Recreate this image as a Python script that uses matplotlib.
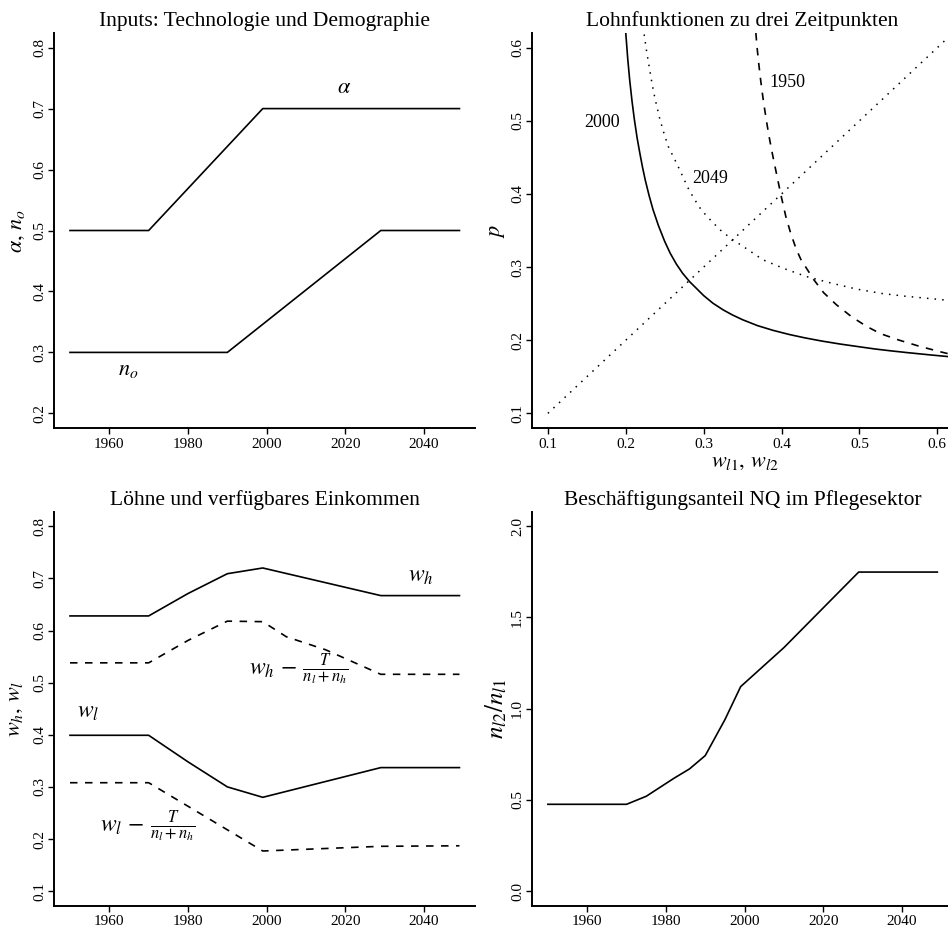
import matplotlib
matplotlib.use('Agg')
import matplotlib.pyplot as plt

plt.rcParams['font.family'] = ['Liberation Serif', 'DejaVu Serif']
plt.rcParams['mathtext.fontset'] = 'stix'

# ---- data ----
# panel 1: inputs
years_alpha = [1950, 1970, 1999, 2049]
alpha = [0.5, 0.5, 0.7, 0.7]
years_no = [1950, 1990, 2029, 2049]
n_o = [0.3, 0.3, 0.5, 0.5]

# panel 2: wage functions (w_l, p)
w_2000 = [0.200, 0.2025, 0.205, 0.208, 0.211, 0.2145, 0.218, 0.2215, 0.225, 0.230,
          0.235, 0.242, 0.250, 0.257, 0.265, 0.273, 0.282, 0.290, 0.300, 0.312,
          0.325, 0.337, 0.350, 0.369, 0.389, 0.410, 0.430, 0.452, 0.475, 0.500,
          0.520, 0.540, 0.560, 0.590, 0.620]
p_2000 = [0.620, 0.585, 0.556, 0.527, 0.502, 0.477, 0.456, 0.4365, 0.419, 0.3975,
          0.3785, 0.3565, 0.335, 0.319, 0.304, 0.2915, 0.280, 0.2716, 0.261, 0.2505,
          0.2415, 0.2345, 0.228, 0.220, 0.2135, 0.2078, 0.2032, 0.1988, 0.1948, 0.191,
          0.188, 0.1855, 0.1832, 0.180, 0.177]
p_1950 = [0.620, 0.600, 0.580, 0.556, 0.534, 0.515, 0.494, 0.475, 0.456, 0.425,
          0.397, 0.369, 0.346, 0.324, 0.310, 0.2826, 0.265, 0.2484, 0.232, 0.219,
          0.209, 0.2004, 0.192, 0.1844, 0.180]
w_1950 = [0.3670, 0.3686, 0.3705, 0.3731, 0.3758, 0.3784, 0.3815, 0.3846, 0.3880, 0.3940,
          0.3995, 0.4055, 0.4118, 0.4190, 0.4250, 0.4415, 0.4540, 0.4705, 0.4900, 0.5090,
          0.5270, 0.5500, 0.5760, 0.6030, 0.6200]
w_2049 = [0.2236, 0.227, 0.231, 0.234, 0.2374, 0.2438, 0.249, 0.2545, 0.261, 0.267,
          0.280, 0.288, 0.297, 0.309, 0.321, 0.335, 0.351, 0.376, 0.403, 0.432,
          0.464, 0.496, 0.528, 0.560, 0.590, 0.620]
p_2049 = [0.618, 0.593, 0.568, 0.549, 0.531, 0.502, 0.483, 0.465, 0.451, 0.438,
          0.408, 0.393, 0.378, 0.364, 0.351, 0.339, 0.328, 0.310, 0.298, 0.287,
          0.278, 0.270, 0.264, 0.260, 0.257, 0.254]
w_diag = [0.1, 0.62]
p_diag = [0.1, 0.62]

# panel 3: wages and disposable income
years_w = [1950, 1970, 1980, 1990, 1999, 2029, 2049]
w_h = [0.628, 0.628, 0.671, 0.709, 0.720, 0.667, 0.667]
w_l = [0.399, 0.399, 0.348, 0.300, 0.280, 0.337, 0.337]
years_d = [1950, 1970, 1980, 1990, 1999, 2005, 2015, 2029, 2049]
w_h_net = [0.538, 0.538, 0.581, 0.618, 0.617, 0.588, 0.563, 0.516, 0.516]
years_dl = [1950, 1970, 1999, 2029, 2049]
w_l_net = [0.308, 0.308, 0.177, 0.186, 0.187]

# panel 4: employment share
years_n = [1950, 1970, 1975, 1982, 1986, 1990, 1995, 1999, 2010, 2029, 2049]
n_ratio = [0.476, 0.476, 0.52, 0.618, 0.67, 0.743, 0.94, 1.121, 1.335, 1.749, 1.749]

year_ticks = [1960, 1980, 2000, 2020, 2040]

LW = 1.2
DASH = (0, (4.5, 4.5))
DOT = (0, (1, 4))


def style(ax, xlim, ylim, xticks, yticks, ylabels):
    ax.set_xlim(*xlim)
    ax.set_ylim(*ylim)
    for s in ['top', 'right']:
        ax.spines[s].set_visible(False)
    for s in ['left', 'bottom']:
        ax.spines[s].set_linewidth(1.4)
    ax.set_xticks(xticks)
    ax.set_xticklabels([str(t) for t in xticks])
    ax.set_yticks(yticks)
    ax.set_yticklabels(ylabels)
    ax.tick_params(direction='out', length=4, width=1, labelsize=11)
    ax.tick_params(axis='x', pad=3)
    ax.tick_params(axis='y', pad=2)
    for lab in ax.get_yticklabels():
        lab.set_rotation(90)
        lab.set_va('center')


fig = plt.figure(figsize=(9.48, 9.30), dpi=100)

# ---- panel 1 ----
ax1 = fig.add_axes([0.0574, 0.5398, 0.4437, 0.4247])
ax1.plot(years_alpha, alpha, color='black', lw=LW)
ax1.plot(years_no, n_o, color='black', lw=LW)
style(ax1, (1946.04, 2052.96), (0.176, 0.824), year_ticks,
      [0.2, 0.3, 0.4, 0.5, 0.6, 0.7, 0.8],
      ['0.2', '0.3', '0.4', '0.5', '0.6', '0.7', '0.8'])
ax1.text(2019.6, 0.733, r'$\alpha$', fontsize=16, ha='center', va='center')
ax1.text(1964.7, 0.271, r'$n_o$', fontsize=16, ha='center', va='center')
ax1.set_ylabel(r'$\alpha,\,n_o$', fontsize=16)
ax1.yaxis.set_label_coords(-0.064, 0.5)
ax1.set_title('Inputs: Technologie und Demographie', fontsize=15.5, pad=5)

# ---- panel 2 ----
ax2 = fig.add_axes([0.5615, 0.5398, 0.4437, 0.4247])
ax2.plot(w_2000, p_2000, color='black', lw=LW)
ax2.plot(w_1950, p_1950, color='black', lw=LW, linestyle=DASH)
ax2.plot(w_2049, p_2049, color='black', lw=1.1, linestyle=DOT)
ax2.plot(w_diag, p_diag, color='black', lw=1.1, linestyle=DOT)
style(ax2, (0.08, 0.62), (0.08, 0.62), [0.1, 0.2, 0.3, 0.4, 0.5, 0.6],
      [0.1, 0.2, 0.3, 0.4, 0.5, 0.6],
      ['0.1', '0.2', '0.3', '0.4', '0.5', '0.6'])
ax2.set_xticklabels(['0.1', '0.2', '0.3', '0.4', '0.5', '0.6'])
ax2.text(0.169, 0.498, '2000', fontsize=13, ha='center', va='center')
ax2.text(0.309, 0.421, '2049', fontsize=13, ha='center', va='center')
ax2.text(0.407, 0.552, '1950', fontsize=13, ha='center', va='center')
ax2.set_ylabel(r'$p$', fontsize=16)
ax2.yaxis.set_label_coords(-0.06, 0.5)
ax2.set_xlabel(r'$w_{l1},\,w_{l2}$', fontsize=16)
ax2.xaxis.set_label_coords(0.506, -0.063)
ax2.set_title('Lohnfunktionen zu drei Zeitpunkten', fontsize=15.5, pad=5)

# ---- panel 3 ----
ax3 = fig.add_axes([0.0574, 0.0261, 0.4437, 0.4237])
ax3.plot(years_w, w_h, color='black', lw=LW)
ax3.plot(years_w, w_l, color='black', lw=LW)
ax3.plot(years_d, w_h_net, color='black', lw=LW, linestyle=DASH)
ax3.plot(years_dl, w_l_net, color='black', lw=LW, linestyle=DASH)
style(ax3, (1946.04, 2052.96), (0.072, 0.828), year_ticks,
      [0.1, 0.2, 0.3, 0.4, 0.5, 0.6, 0.7, 0.8],
      ['0.1', '0.2', '0.3', '0.4', '0.5', '0.6', '0.7', '0.8'])
ax3.text(2039.3, 0.703, r'$w_h$', fontsize=17, ha='center', va='center')
ax3.text(1954.5, 0.443, r'$w_l$', fontsize=17, ha='center', va='center')
ax3.text(2008, 0.525, r'$w_h\,-\,\frac{T}{n_l + n_h}$', fontsize=17,
         ha='center', va='center')
ax3.text(1969.8, 0.224, r'$w_l\,-\,\frac{T}{n_l + n_h}$', fontsize=17,
         ha='center', va='center')
ax3.set_ylabel(r'$w_h,\,w_l$', fontsize=16)
ax3.yaxis.set_label_coords(-0.07, 0.5)
ax3.set_title('Löhne und verfügbares Einkommen', fontsize=15.5, pad=5)

# ---- panel 4 ----
ax4 = fig.add_axes([0.5615, 0.0261, 0.4437, 0.4237])
ax4.plot(years_n, n_ratio, color='black', lw=LW)
style(ax4, (1946.04, 2052.96), (-0.08, 2.08), year_ticks,
      [0.0, 0.5, 1.0, 1.5, 2.0], ['0.0', '0.5', '1.0', '1.5', '2.0'])
ax4.set_ylabel(r'$n_{l2}/n_{l1}$', fontsize=18)
ax4.yaxis.set_label_coords(-0.056, 0.5)
ax4.set_title('Beschäftigungsanteil NQ im Pflegesektor', fontsize=15.5, pad=5)

fig.savefig('out.png', dpi=100)
